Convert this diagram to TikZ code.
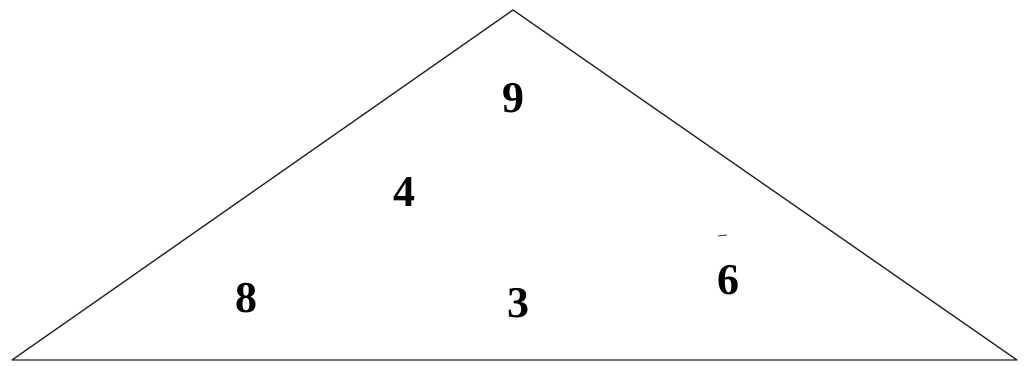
\documentclass[tikz,border=0pt]{standalone}
\usepackage{fontspec}
\setmainfont{Liberation Serif}
\usepackage{tikz}
\usetikzlibrary{positioning}
\tikzset{
  digit/.style={
    font=\fontsize{25}{25}\selectfont\bfseries,
    inner sep=0pt
  },
  edge line/.style={
    draw=black!85, line width=0.75pt, line join=round
  },
}

\begin{document}
\begin{tikzpicture}[x=0.02cm, y=-0.02cm]

  % Frame
  \useasboundingbox (0, 0) rectangle (1024, 365);

  % Corners of the triangle
  \coordinate (top) at (513, 10);
  \coordinate (left) at (12, 360);
  \coordinate (right) at (1017, 360);

  % Sides
  \draw[edge line] (left) -- (top) -- (right) -- cycle;

  % Stray mark above the 6
  \draw[black!70, line width=0.6pt] (718, 236) -- (727, 235);

  % Numbers
  \node[digit] (nine) at (513, 98) {9};
  \node[digit] (four) at (404, 192) {4};
  \node[digit] (eight) at (246, 298) {8};
  \node[digit] (three) at (518, 303) {3};
  \node[digit] (six) at (728, 280) {6};

\end{tikzpicture}
\end{document}
